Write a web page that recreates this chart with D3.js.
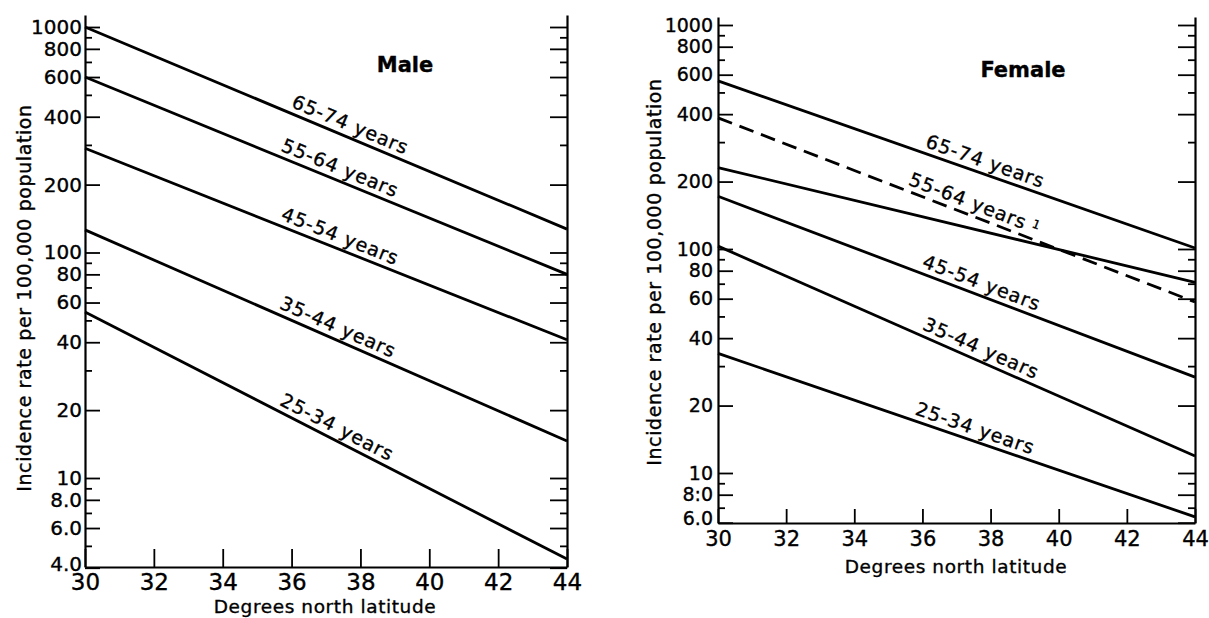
<!DOCTYPE html>
<html>
<head>
<meta charset="utf-8">
<script src="https://cdn.jsdelivr.net/npm/d3@7"></script>
<style>
  body { margin: 0; background: #fff; }
  svg { display: block; }
  .series { fill: none; stroke: #000; stroke-width: 2.8; }
  .axis path, .axis line { stroke: #000; }
  .axis path { stroke-width: 2.2; }
  .axis line { stroke-width: 1.8; }
  text { font-family: "DejaVu Sans", sans-serif; fill: #000; stroke: #000; stroke-width: 0.35; }
</style>
</head>
<body>
<svg id="chart" width="1209" height="618"></svg>
<script>
// Datos (tasa por 100.000 en 30° y 44° de latitud)
const latitudes = [30, 44];
const ageGroups = ["65-74 years", "55-64 years", "45-54 years", "35-44 years", "25-34 years"];
const maleRates = [[1000, 127], [600, 80], [290, 41], [126, 14.6], [54.5, 4.37]];
const femaleRates = [[563, 101], [385, 58], [172, 26.8], [103, 11.9], [34.2, 6.37]];
const femaleRates5564Solid = [231, 71];

// Ticks
const xTicks = [30, 32, 34, 36, 38, 40, 42, 44];
const maleMajor = [1000, 800, 600, 400, 200, 100, 80, 60, 40, 20, 10, 8, 6, 4];
const maleMajorLabels = ["1000", "800", "600", "400", "200", "100", "80", "60", "40", "20", "10", "8.0", "6.0", "4.0"];
const maleMinor = [900, 700, 500, 300, 90, 70, 50, 30, 9, 7, 5];
const femaleMajor = [1000, 800, 600, 400, 200, 100, 80, 60, 40, 20, 10, 8, 6];
const femaleMajorLabels = ["1000", "800", "600", "400", "200", "100", "80", "60", "40", "20", "10", "8:0", "6.0"];
const femaleMinor = [900, 700, 500, 300, 90, 70, 50, 30, 9, 7];

const svg = d3.select("#chart");

// Configuración de cada panel (píxeles)
const panels = [
  {
    title: "Male", titleX: 405, titleY: 72,
    x0: 85, x1: 567, y1000: 27, y10: 478, yBottom: 567, yTop: 15,
    major: maleMajor, majorLabels: maleMajorLabels, minor: maleMinor,
    rates: maleRates, labelLat: [35.9, 35.6, 35.6, 35.55, 35.55], dashed: [],
    yTickFont: 20, yTickPad: 3, xTickFont: 23, xTickLen: 18, xLabelY: 590,
    yTitleX: 31, yTitleY: 298, xTitleX: 325, xTitleY: 613
  },
  {
    title: "Female", titleX: 1023, titleY: 77,
    x0: 718, x1: 1195, y1000: 25, y10: 473, yBottom: 523, yTop: 17,
    major: femaleMajor, majorLabels: femaleMajorLabels, minor: femaleMinor,
    rates: femaleRates, labelLat: [36.0, 35.5, 35.9, 35.9, 35.7], dashed: [1],
    extra: femaleRates5564Solid,
    yTickFont: 19, yTickPad: 5, xTickFont: 21, xTickLen: 14, xLabelY: 546,
    yTitleX: 661, yTitleY: 272, xTitleX: 956, xTitleY: 573
  }
];

panels.forEach(p => {
  const g = svg.append("g");

  const x = d3.scaleLinear().domain([30, 44]).range([p.x0, p.x1]);
  const base = d3.scaleLog().domain([10, 1000]).range([p.y10, p.y1000]);
  const y = d3.scaleLog()
    .domain([base.invert(p.yBottom), base.invert(p.yTop)])
    .range([p.yBottom, p.yTop]);

  const labelMap = new Map(p.major.map((v, i) => [v, p.majorLabels[i]]));
  const lowest = d3.min(p.major);

  // Eje izquierdo
  const left = g.append("g").attr("class", "axis")
    .attr("transform", `translate(${p.x0},0)`)
    .call(d3.axisLeft(y).tickValues(p.major).tickSize(-15).tickSizeOuter(0)
      .tickPadding(p.yTickPad).tickFormat(d => labelMap.get(d)));
  left.selectAll("text")
    .attr("font-size", p.yTickFont).attr("font-family", "DejaVu Sans")
    .attr("y", d => d === lowest ? -4 : 0);
  g.append("g").attr("class", "axis")
    .attr("transform", `translate(${p.x0},0)`)
    .call(d3.axisLeft(y).tickValues(p.minor).tickSize(-7).tickFormat(""))
    .select(".domain").remove();

  // Eje derecho
  g.append("g").attr("class", "axis")
    .attr("transform", `translate(${p.x1},0)`)
    .call(d3.axisRight(y).tickValues(p.major).tickSize(-17).tickSizeOuter(0).tickFormat(""));
  g.append("g").attr("class", "axis")
    .attr("transform", `translate(${p.x1},0)`)
    .call(d3.axisRight(y).tickValues(p.minor).tickSize(-7).tickFormat(""))
    .select(".domain").remove();

  // Eje inferior
  const bottom = g.append("g").attr("class", "axis")
    .attr("transform", `translate(0,${p.yBottom})`)
    .call(d3.axisBottom(x).tickValues(xTicks).tickSize(-p.xTickLen).tickSizeOuter(0).tickPadding(0));
  bottom.selectAll("text")
    .attr("font-size", p.xTickFont).attr("font-family", "DejaVu Sans")
    .attr("dy", null).attr("y", p.xLabelY - p.yBottom);

  // Líneas
  const line = d3.line().x((d, i) => x(latitudes[i])).y(d => y(d));
  if (p.extra) {
    g.append("path").attr("class", "series").attr("d", line(p.extra));
  }
  p.rates.forEach((r, i) => {
    g.append("path").attr("class", "series")
      .attr("d", line(r))
      .attr("stroke-dasharray", p.dashed.includes(i) ? "15,8" : null);

    // Etiqueta a lo largo de la línea
    const L = p.labelLat[i];
    const t = (L - latitudes[0]) / (latitudes[1] - latitudes[0]);
    const v = Math.exp(Math.log(r[0]) + t * (Math.log(r[1]) - Math.log(r[0])));
    const ang = Math.atan2(y(r[1]) - y(r[0]), x(latitudes[1]) - x(latitudes[0])) * 180 / Math.PI;
    const txt = g.append("text")
      .attr("transform", `translate(${x(L)},${y(v)}) rotate(${ang})`)
      .attr("dy", -6)
      .attr("font-size", 19)
      .attr("letter-spacing", 1)
      .text(ageGroups[i]);
    if (p.dashed.includes(i)) {
      txt.append("tspan").attr("dx", 6).attr("dy", -5).attr("font-size", 12).text("1");
    }
  });

  // Títulos
  g.append("text")
    .attr("x", p.titleX).attr("y", p.titleY)
    .attr("text-anchor", "middle")
    .attr("font-size", 21).attr("font-weight", "bold")
    .text(p.title);

  g.append("text")
    .attr("transform", `translate(${p.yTitleX},${p.yTitleY}) rotate(-90)`)
    .attr("text-anchor", "middle")
    .attr("font-size", 19)
    .attr("letter-spacing", 0.6)
    .text("Incidence rate per 100,000 population");

  g.append("text")
    .attr("x", p.xTitleX).attr("y", p.xTitleY)
    .attr("text-anchor", "middle")
    .attr("font-size", 18.5)
    .attr("letter-spacing", 0.6)
    .text("Degrees north latitude");
});
</script>
</body>
</html>
